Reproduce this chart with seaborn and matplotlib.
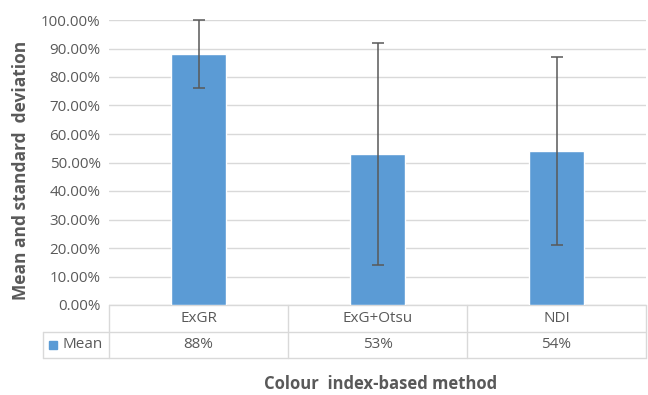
import matplotlib
matplotlib.use('Agg')
import matplotlib.pyplot as plt
import seaborn as sns
import numpy as np

methods = ['ExGR', 'ExG+Otsu', 'NDI']
mean_vals = [0.88, 0.53, 0.54]
sd_vals = [0.12, 0.39, 0.33]
mean_labels = ['88%', '53%', '54%']
yticks = np.arange(0, 1.01, 0.1)

sns.set_style('white')
plt.rcParams['font.family'] = ['Open Sans', 'DejaVu Sans']

grey = '#595959'
blue = '#5B9BD5'
line_c = '#D9D9D9'

fig = plt.figure(figsize=(6.48, 3.95), dpi=100)
ax = fig.add_axes([109 / 648, 1 - 305 / 395, 537 / 648, 285 / 395])

sns.barplot(x=methods, y=mean_vals, color=blue, width=0.31, saturation=1, ax=ax, zorder=3)
ax.errorbar(x=np.arange(len(methods)), y=mean_vals, yerr=sd_vals, fmt='none',
            ecolor=grey, elinewidth=1.1, capsize=4.5, capthick=1.1, zorder=4, clip_on=False)

ax.set_xlim(-0.5, 2.5)
ax.set_ylim(0, 1.0)
ax.set_yticks(yticks)
ax.set_yticklabels([f'{v * 100:.2f}%' for v in yticks], color=grey, fontsize=10.9)
ax.tick_params(axis='y', length=0, pad=6)
ax.set_xticks([])
ax.set_xlabel('')
for s in ax.spines.values():
    s.set_visible(False)
ax.yaxis.grid(True, color=line_c, linewidth=1, zorder=0)

# data table below the plot
r1 = -27 / 285
r2 = -53 / 285
lx = (43 - 109) / 537
kw = dict(transform=ax.transAxes, color=line_c, linewidth=1, clip_on=False)
ax.plot([0, 1], [0, 0], **kw)
ax.plot([lx, 1], [r1, r1], **kw)
ax.plot([lx, 1], [r2, r2], **kw)
ax.plot([lx, lx], [r1, r2], **kw)
for xb in [0, 1 / 3, 2 / 3, 1]:
    ax.plot([xb, xb], [0, r2], **kw)

for i, (m, lab) in enumerate(zip(methods, mean_labels)):
    xc = (i + 0.5) / 3
    ax.text(xc, r1 / 2, m, transform=ax.transAxes, ha='center', va='center',
            color=grey, fontsize=11)
    ax.text(xc, (r1 + r2) / 2, lab, transform=ax.transAxes, ha='center', va='center',
            color=grey, fontsize=11)

sq = (49 - 109) / 537
ax.add_patch(plt.Rectangle((sq, (r1 + r2) / 2 - 4 / 285), 8 / 537, 8 / 285,
                           transform=ax.transAxes, color=blue, clip_on=False))
ax.text((62 - 109) / 537, (r1 + r2) / 2, 'Mean', transform=ax.transAxes,
        ha='left', va='center', color=grey, fontsize=11)

fig.text(381 / 648, 1 - 384 / 395, 'Colour  index-based method', ha='center', va='center',
         color=grey, fontsize=12, fontweight='bold')
fig.text(21 / 648, 1 - 170 / 395, 'Mean and standard  deviation', ha='center', va='center',
         rotation=90, color=grey, fontsize=12.5, fontweight='bold')

fig.savefig('out.png', dpi=100)
